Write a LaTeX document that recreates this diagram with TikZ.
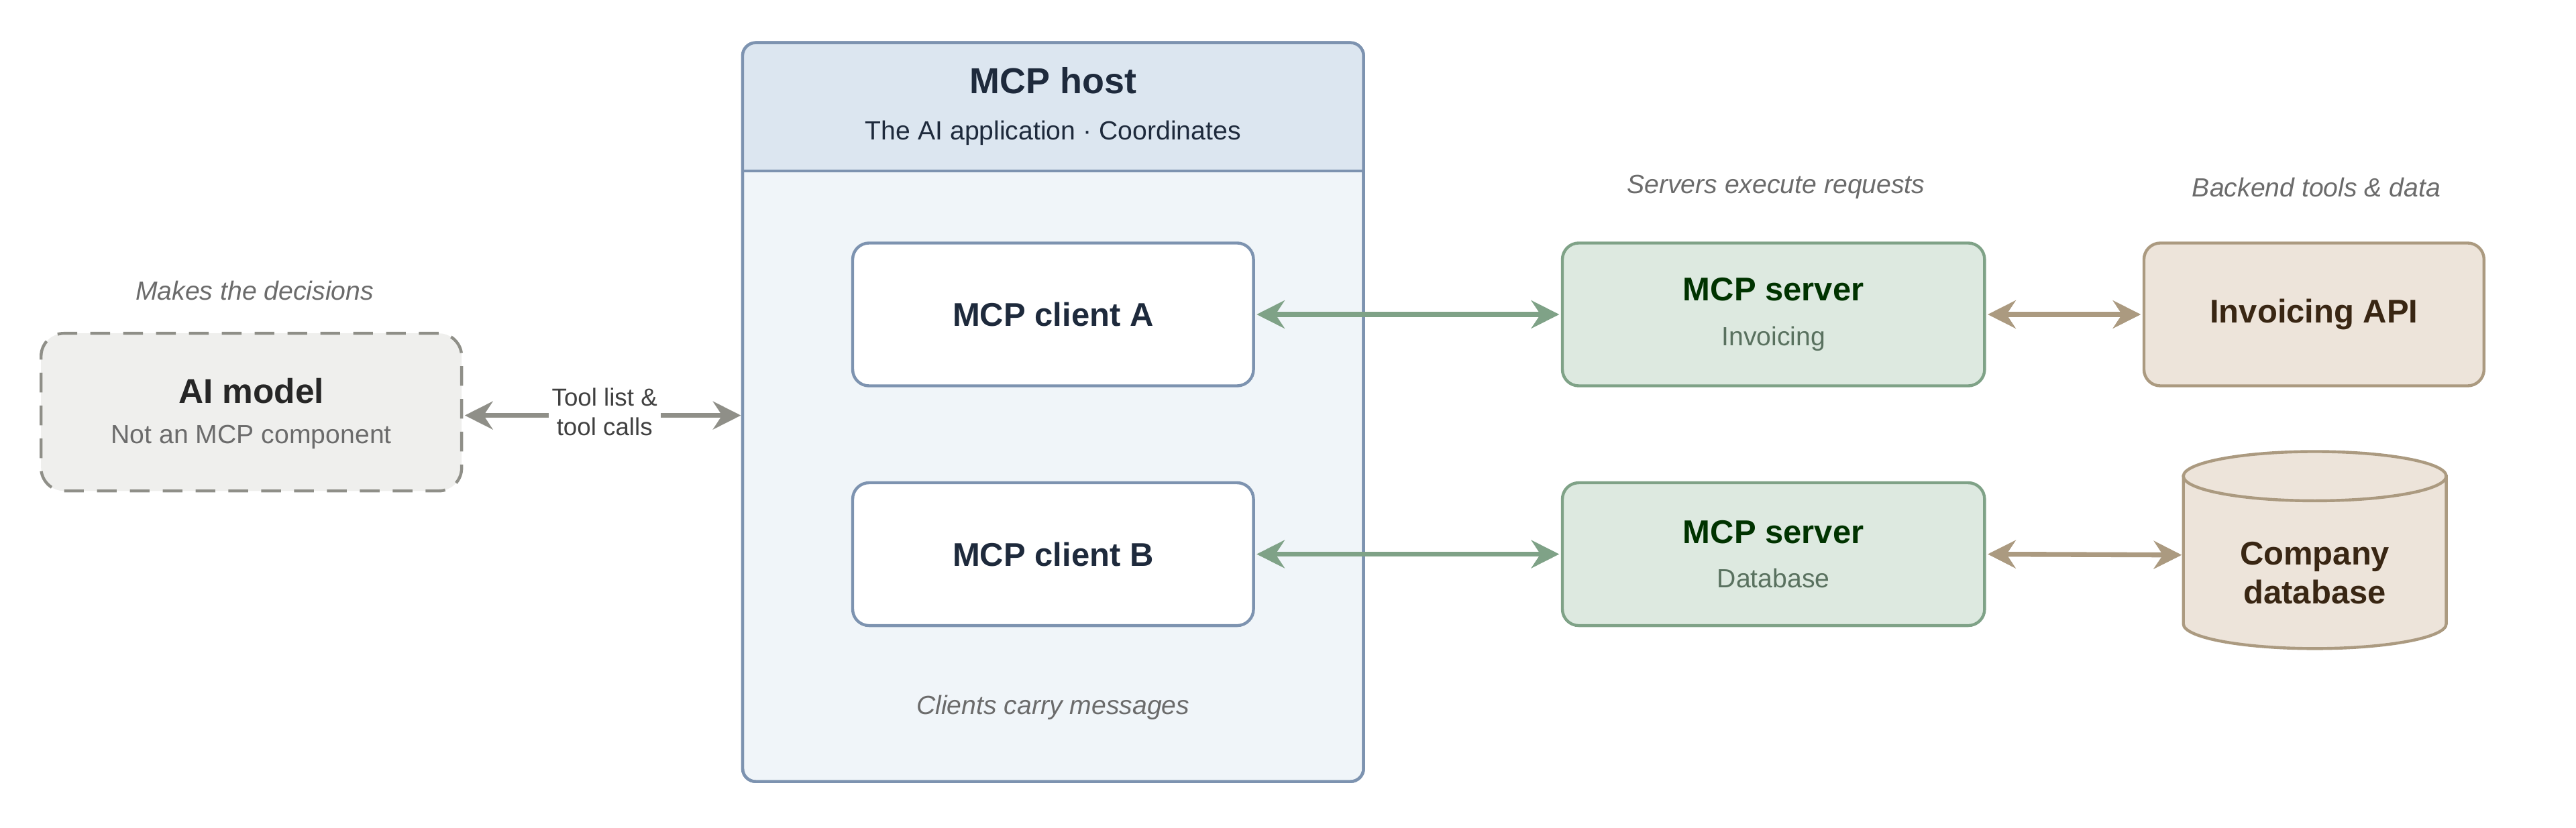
\documentclass[tikz,border=0pt]{standalone}
\usepackage{fontspec}
\setmainfont{Liberation Sans}
\usetikzlibrary{positioning,arrows.meta}
\definecolor{hostline}{HTML}{7D93B0}
\definecolor{hosthead}{HTML}{DCE6F0}
\definecolor{hostbody}{HTML}{F0F5F9}
\definecolor{servfill}{HTML}{DDE9E0}
\definecolor{servline}{HTML}{7FA287}
\definecolor{backfill}{HTML}{EDE4DA}
\definecolor{backline}{HTML}{AB9A80}
\definecolor{aifill}{HTML}{EFEFED}
\definecolor{ailine}{HTML}{8F8F88}
\definecolor{navy}{HTML}{1E2A3C}
\definecolor{note}{HTML}{6B6B6B}
\tikzset{
  box/.style={draw, rounded corners=10pt, line width=1.8pt, minimum width=#1, minimum height=87pt, align=center},
  client/.style={box=244pt, draw=hostline, fill=white, font=\fontsize{20}{24}\selectfont\bfseries, text=navy},
  server/.style={box=257pt, draw=servline, fill=servfill, text=green!20!black, font=\fontsize{20}{27}\selectfont},
  backend/.style={box=207pt, draw=backline, fill=backfill, text=brown!30!black, font=\fontsize{20}{24}\selectfont\bfseries},
  caption/.style={font=\fontsize{16}{19}\selectfont\itshape, text=note},
  link/.style={line width=3pt, {Stealth[length=17pt,width=17pt]}-{Stealth[length=17pt,width=17pt]}, shorten <=1pt, shorten >=1pt}
}
\begin{document}
\begin{tikzpicture}[x=1pt,y=-1pt]
\useasboundingbox (0,0) rectangle (1568,504);

%host
\draw[hostline, line width=1.8pt, fill=hostbody, rounded corners=8pt] (452,26) rectangle (830,476);
\begin{scope}
\clip[rounded corners=8pt] (452,26) rectangle (830,476);
\fill[hosthead] (452,26) rectangle (830,104);
\end{scope}
\draw[hostline, line width=1.8pt, rounded corners=8pt] (452,26) rectangle (830,476);
\draw[hostline, line width=1.8pt] (452,104) -- (830,104);
\node[font=\fontsize{22}{26}\selectfont\bfseries, text=navy] (hosttitle) at (641,49) {MCP host};
\node[font=\fontsize{16}{19}\selectfont, text=navy] (hostsub) at (641,81) {The AI application · Coordinates};
\coordinate (hostedge) at (452,253);

%clients
\node[client] (clientA) at (641,191.5) {MCP client A};
\node[client] (clientB) at (641,337.5) {MCP client B};
\node[caption] (clientnote) at (641,431) {Clients carry messages};

%ai model
\node[box=256pt, minimum height=96pt, draw=ailine, fill=aifill, dash pattern=on 12pt off 8pt, rounded corners=14pt] (model) at (153,251) {};
\node[font=\fontsize{21}{25}\selectfont\bfseries, text=black!85] (modeltitle) at (153,238) {AI model};
\node[font=\fontsize{16}{19}\selectfont, text=note] (modelsub) at (153,266) {Not an MCP component};
\node[caption] (modelnote) at (155,177) {Makes the decisions};

%servers
\node[server] (servA) at (1079.5,191.5) {\textbf{MCP server}\\{\fontsize{16}{19}\selectfont\color{servline!70!black}Invoicing}};
\node[server] (servB) at (1079.5,337.5) {\textbf{MCP server}\\{\fontsize{16}{19}\selectfont\color{servline!70!black}Database}};
\node[caption] (servnote) at (1081,114) {Servers execute requests};

%backend
\node[backend] (api) at (1408.5,191.5) {Invoicing API};
\draw[backline, fill=backfill, line width=1.8pt] (1329,290) -- (1329,380) arc[start angle=180, end angle=0, x radius=80, y radius=15] -- (1489,290) -- cycle;
\draw[backline, fill=backfill, line width=1.8pt] (1409,290) ellipse[x radius=80, y radius=15];
\node[align=center, text=brown!30!black, font=\fontsize{20}{24}\selectfont\bfseries] (db) at (1409,349) {Company\\database};
\coordinate (dbedge) at (1329,338);
\node[caption] (backnote) at (1410,114) {Backend tools \& data};

%connectors
\draw[link, ailine] (model.east |- hostedge) -- (hostedge);
\node[fill=white, inner sep=2pt, align=center, font=\fontsize{15}{18}\selectfont, text=black!75] (toolnote) at (368,251) {Tool list \&\\tool calls};
\draw[link, servline] (clientA) -- (servA);
\draw[link, servline] (clientB) -- (servB);
\draw[link, backline] (servA) -- (api);
\draw[link, backline] (servB.east) -- (dbedge);
\end{tikzpicture}
\end{document}
